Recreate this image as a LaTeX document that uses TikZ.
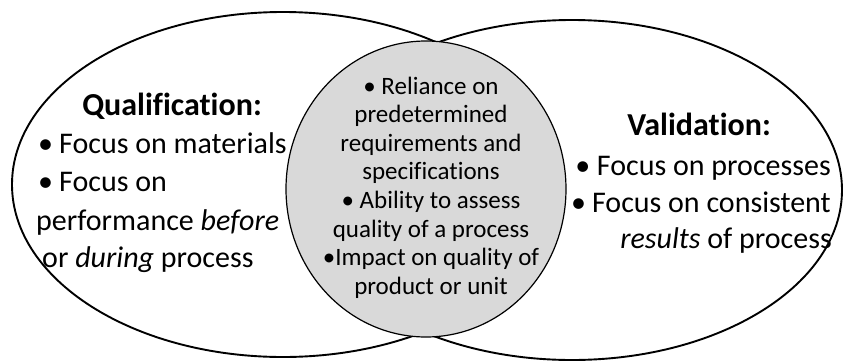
\documentclass[tikz,border=0pt]{standalone}
\usepackage{fontspec}
\setmainfont{Carlito}[Ligatures=CommonOff]
\definecolor{midgray}{RGB}{217,217,217}
\begin{document}
\begin{tikzpicture}[x=1pt,y=-1pt,
  outer/.style={draw=black,line width=1.9pt},
  inner/.style={draw=black,fill=midgray,line width=1.2pt},
  bigtxt/.style={inner sep=0pt,font=\fontsize{30}{36}\selectfont},
  titletxt/.style={inner sep=0pt,anchor=base,font=\fontsize{32}{38}\selectfont\bfseries},
  midtxt/.style={inner sep=0pt,anchor=base,font=\fontsize{25}{30}\selectfont}]
\useasboundingbox (0,0) rectangle (844,362);
\fill[white] (0,0) rectangle (844,362);
% ellipses
\draw[outer] (283,184.5) ellipse [x radius=271pt, y radius=172.5pt];
\draw[outer] (572,190) ellipse [x radius=270pt, y radius=170pt];
\draw[inner] (426,189) ellipse [x radius=140pt, y radius=148pt];
% left text
\node[titletxt] (qt) at (172,115) {Qualification:};
\node[bigtxt,anchor=base west] (q1) at (38,153) {•\hspace{0.2em}Focus on materials};
\node[bigtxt,anchor=base west] (q2) at (38,191) {•\hspace{0.2em}Focus on};
\node[bigtxt,anchor=base west] (q3) at (36,230) {performance \textit{before}};
\node[bigtxt,anchor=base west] (q4) at (42,267) {or \textit{during} process};
% right text
\node[titletxt] (vt) at (699,135) {Validation:};
\node[bigtxt,anchor=base east] (v1) at (831,175) {• Focus on processes};
\node[bigtxt,anchor=base east] (v2) at (831,212) {•\hspace{0.2em}Focus on consistent};
\node[bigtxt,anchor=base east] (v3) at (832,248) {\textit{results} of process};
% middle text
\node[midtxt] (m1) at (431,94) {• Reliance on};
\node[midtxt] (m2) at (431,122.6) {predetermined};
\node[midtxt] (m3) at (431,151.2) {requirements and};
\node[midtxt] (m4) at (431,179.8) {specifications};
\node[midtxt] (m5) at (431,208.4) {• Ability to assess};
\node[midtxt] (m6) at (431,237) {quality of a process};
\node[midtxt] (m7) at (431,265.6) {•Impact on quality of};
\node[midtxt] (m8) at (431,294.2) {product or unit};
\end{tikzpicture}
\end{document}
